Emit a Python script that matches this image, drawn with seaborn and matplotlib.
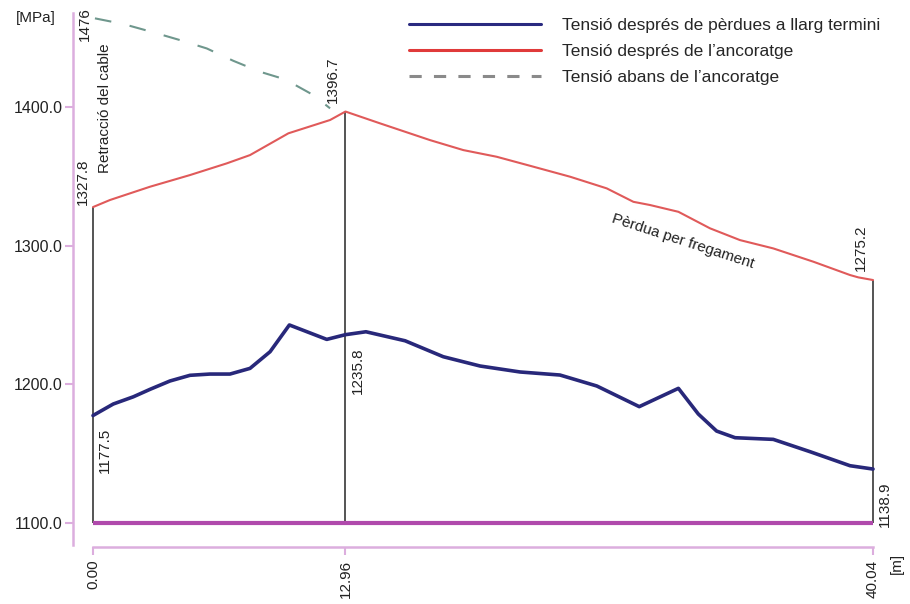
import numpy as np
import matplotlib
matplotlib.use('Agg')
import matplotlib.pyplot as plt
import pandas as pd
import seaborn as sns
from matplotlib.lines import Line2D

# DATA
# tension after long-term losses
x_long = [0, 1.04, 2.07, 2.93, 3.95, 4.98, 6.0, 7.03, 8.06, 9.09, 10.08, 12.0, 12.96,
          14.01, 16.02, 17.98, 19.87, 21.92, 23.97, 25.86, 28.04, 30.05, 31.07, 32.01,
          32.96, 34.92, 36.81, 38.86, 40.04]
y_long = [1177.5, 1185.8, 1191.0, 1196.4, 1202.4, 1206.5, 1207.4, 1207.4, 1211.5, 1223.5,
          1242.8, 1232.4, 1235.8, 1237.9, 1231.4, 1219.9, 1213.2, 1208.9, 1206.7, 1198.8,
          1183.9, 1197.1, 1178.6, 1166.3, 1161.5, 1160.3, 1151.4, 1141.3, 1138.9]

# tension after anchorage
x_anch = [0, 0.87, 2.93, 4.98, 6.86, 8.06, 10.03, 12.17, 12.96, 14.73, 17.3, 19.01, 20.72,
          22.43, 24.49, 26.37, 27.74, 28.59, 30.05, 31.67, 33.21, 34.92, 36.98, 38.86,
          39.29, 40.04]
y_anch = [1327.8, 1332.9, 1342.5, 1350.9, 1359.3, 1365.3, 1381.0, 1390.6, 1396.7, 1388.2,
          1376.1, 1368.9, 1364.1, 1357.6, 1349.7, 1341.3, 1331.6, 1329.3, 1324.4, 1312.5,
          1304.0, 1298.0, 1288.4, 1278.8, 1277.1, 1275.2]

# tension before anchorage
x_before = [0.1, 1.56, 3.1, 4.47, 5.84, 7.2, 8.57, 9.86, 11.31, 12.17]
y_before = [1463.9, 1459.8, 1453.8, 1448.2, 1442.2, 1433.3, 1425.4, 1419.9, 1408.6, 1399.0]

# key sections
key_x = [0, 12.96, 40.04]
key_top = [1327.8, 1396.7, 1275.2]
x_ticklabels = ['0.00', '12.96', '40.04']
y_ticks = [1100, 1200, 1300, 1400]
base_val = 1100

legend_labels = ['Tensió després de pèrdues a llarg termini',
                 'Tensió després de l\u2019ancoratge',
                 'Tensió abans de l\u2019ancoratge']

# STYLE
sns.set_style('white')
plt.rcParams['font.family'] = ['Liberation Sans', 'DejaVu Sans']

blue = '#28287a'
red = '#e05a5a'
teal = '#6f978d'
pink = '#dcaede'
magenta = '#b04aac'
grey = '#474747'

fig = plt.figure(figsize=(9.10, 6.04), dpi=100)
ax = fig.add_axes([0.0802, 0.0836, 0.8978, 0.9138])

df_long = pd.DataFrame({'x': x_long, 'y': y_long})
df_anch = pd.DataFrame({'x': x_anch, 'y': y_anch})
df_before = pd.DataFrame({'x': x_before, 'y': y_before})

# vertical section lines and baseline
ax.vlines(key_x, base_val, key_top, color=grey, lw=1.3, zorder=1)
ax.hlines(base_val, key_x[0], key_x[-1], color=magenta, lw=3, zorder=2)

sns.lineplot(data=df_long, x='x', y='y', ax=ax, color=blue, lw=2.6, sort=False,
             estimator=None, zorder=3)
sns.lineplot(data=df_anch, x='x', y='y', ax=ax, color=red, lw=1.5, sort=False,
             estimator=None, zorder=3)
sns.lineplot(data=df_before, x='x', y='y', ax=ax, color=teal, lw=1.5, sort=False,
             estimator=None, zorder=3)
ax.lines[-1].set_dashes([8, 9])

# axes limits so 1px ~ 1/1.387 MPa and 1/19.48 m
ax.set_xlim(-1.027, 40.91)
ax.set_ylim(1078, 1476)

for s in ['top', 'right']:
    ax.spines[s].set_visible(False)
ax.spines['left'].set_color(pink)
ax.spines['left'].set_linewidth(1.8)
ax.spines['left'].set_bounds(1084, 1468)
ax.spines['bottom'].set_position(('data', 1082.7))
ax.spines['bottom'].set_color(pink)
ax.spines['bottom'].set_linewidth(1.8)
ax.spines['bottom'].set_bounds(key_x[0], key_x[-1])

ax.set_yticks(y_ticks)
ax.set_yticklabels([f'{v:.1f}' for v in y_ticks])
ax.set_xticks(key_x)
ax.set_xticklabels(x_ticklabels, rotation=90)
ax.tick_params(axis='y', left=True, direction='out', length=6, width=1.5, color=pink,
               labelsize=11.5, pad=1.5, labelcolor='#222222')
ax.tick_params(axis='x', bottom=True, direction='out', length=6, width=1.5, color=pink,
               labelsize=11, pad=3, labelcolor='#222222')
ax.set_xlabel('')
ax.set_ylabel('')

# annotations
tk = dict(rotation=90, fontsize=11, color='#222222', ha='center')
ax.text(-0.41, 1472, '1476', va='top', **tk)
ax.text(0.62, 1446, 'Retracció del cable', va='top', **tk)
ax.text(-0.5, 1329, '1327.8', va='bottom', **tk)
ax.text(12.32, 1402.5, '1396.7', va='bottom', **tk)
ax.text(13.6, 1227, '1235.8', va='top', **tk)
ax.text(0.62, 1169, '1177.5', va='top', **tk)
ax.text(39.43, 1282, '1275.2', va='bottom', **tk)
ax.text(40.66, 1097, '1138.9', va='bottom', **tk)
ax.text(30.29, 1303.3, 'Pèrdua per fregament', rotation=-18, fontsize=11,
        ha='center', va='center', rotation_mode='anchor', color='#222222')

fig.text(36 / 910, 1 - 18 / 604, '[MPa]', fontsize=11, ha='center', va='center',
         color='#222222')
fig.text(897 / 910, 1 - 563 / 604, '[m]', fontsize=11, ha='center', va='center',
         rotation=90, color='#222222')

# legend
handles = [Line2D([], [], color='#2a2a80', lw=2.2),
           Line2D([], [], color='#e03a3a', lw=2.2),
           Line2D([], [], color='#8a8a8a', lw=2.2, dashes=[4, 4])]
ax.legend(handles, legend_labels, loc='upper left', frameon=False, fontsize=12.5,
          bbox_to_anchor=(409 / 910, 1 - 18 / 604), bbox_transform=fig.transFigure,
          borderaxespad=0, borderpad=0, handlelength=7.6, handletextpad=1.2,
          labelspacing=0.62)

fig.savefig('out.png', dpi=100)
